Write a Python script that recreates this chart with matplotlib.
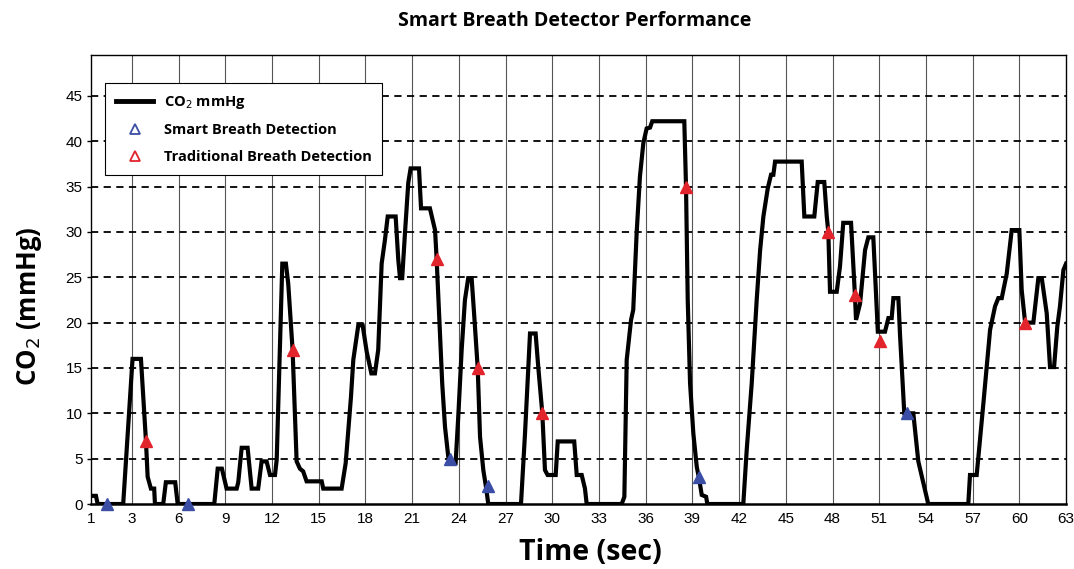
import numpy as np
import matplotlib.pyplot as plt
from matplotlib.lines import Line2D

# CO2 trace (time in sec, value in mmHg)
czas = [0.37, 0.69, 0.80, 2.44, 3.04, 3.58, 3.90, 4.01, 4.22, 4.43, 4.48, 5.01, 5.18, 5.78, 5.94,
        8.29, 8.51, 8.78, 9.08, 9.73, 9.83, 10.05, 10.43, 10.69, 11.11, 11.33, 11.65, 11.87, 12.19,
        12.30, 12.66, 12.89, 13.04, 13.32, 13.58, 13.79, 14.00, 14.22, 15.19, 15.29, 16.47, 16.73,
        17.07, 17.22, 17.54, 17.82, 18.08, 18.38, 18.61, 18.82, 19.04, 19.25, 19.43, 19.94, 20.11,
        20.22, 20.36, 20.54, 20.75, 20.90, 21.44, 21.57, 22.14, 22.36, 22.47, 22.57, 22.72, 22.93,
        23.11, 23.32, 23.43, 23.79, 23.96, 24.18, 24.39, 24.60, 24.82, 24.99, 25.21, 25.36, 25.57,
        25.74, 25.89, 27.99, 28.25, 28.57, 28.93, 29.10, 29.36, 29.53, 29.70, 30.22, 30.35, 31.41,
        31.57, 31.89, 32.10, 32.21, 34.46, 34.63, 34.78, 35.06, 35.20, 35.42, 35.63, 35.85, 36.06,
        36.28, 36.42, 38.48, 38.59, 38.70, 38.85, 39.06, 39.28, 39.43, 39.60, 39.88, 39.96, 42.27,
        42.49, 42.81, 43.13, 43.35, 43.56, 43.84, 44.05, 44.20, 44.31, 46.02, 46.19, 46.83, 47.05,
        47.47, 47.63, 47.73, 47.84, 48.27, 48.48, 48.69, 49.19, 49.44, 49.51, 49.77, 50.09, 50.30,
        50.62, 50.91, 51.37, 51.59, 51.80, 51.91, 52.23, 52.34, 52.55, 52.61, 53.19, 53.51, 54.15,
        56.72, 56.83, 57.26, 57.69, 58.12, 58.44, 58.65, 58.87, 59.19, 59.51, 60.00, 60.15, 60.37,
        60.90, 61.22, 61.44, 61.76, 61.97, 62.23, 62.44, 62.61, 62.83, 63.00]
co2 = [0.9, 0.9, 0, 0, 16, 16, 7, 3.0, 1.7, 1.7, 0, 0, 2.4, 2.4, 0,
       0, 3.9, 3.9, 1.7, 1.7, 2.4, 6.2, 6.2, 1.7, 1.7, 4.7, 4.7, 3.2, 3.2,
       4.9, 26.5, 26.5, 24.3, 17.0, 4.7, 3.9, 3.6, 2.5, 2.5, 1.7, 1.7, 4.5,
       11.8, 15.9, 19.7, 19.7, 16.8, 14.4, 14.4, 17.0, 26.5, 29.1, 31.7, 31.7, 26.9,
       24.9, 24.9, 29.9, 35.4, 37.0, 37.0, 32.6, 32.6, 31.0, 30.2, 27.1, 21.4, 13.3,
       8.5, 5.2, 4.5, 4.5, 9.6, 17.0, 22.5, 24.9, 24.9, 20.7, 15.0, 7.4, 3.75,
       1.9, 0, 0, 7.8, 18.8, 18.8, 15.1, 10.0, 3.75, 3.2, 3.2, 6.9, 6.9,
       3.2, 3.2, 1.7, 0, 0, 0.8, 15.9, 20.3, 21.4, 29.9, 36.1, 39.8, 41.4,
       41.5, 42.2, 42.2, 35.0, 22.5, 13.3, 7.8, 4.1, 2.8, 1.0, 0.8, 0, 0,
       6.0, 13.3, 22.5, 28.0, 31.7, 34.8, 36.3, 36.3, 37.75, 37.75, 31.7, 31.7, 35.5,
       35.5, 31.7, 30.0, 23.4, 23.4, 26.2, 31.0, 31.0, 23.0, 20.3, 22.1, 28.0, 29.4,
       29.4, 19.0, 19.0, 20.5, 20.5, 22.7, 22.7, 18.5, 11.8, 10.0, 10.0, 4.7, 0,
       0, 3.2, 3.2, 11.1, 19.2, 21.8, 22.7, 22.7, 25.4, 30.2, 30.2, 23.6, 20.0,
       20.0, 24.9, 24.9, 21.0, 15.1, 15.1, 19.6, 21.8, 25.8, 26.5]

smart_t = [1.39, 6.58, 23.43, 25.89, 39.43, 52.77]
smart_v = [0, 0, 5, 2, 3, 10]
trad_t = [3.90, 13.32, 22.57, 25.21, 29.36, 38.59, 47.73, 49.44, 51.05, 60.37]
trad_v = [7, 17, 27, 15, 10, 35, 30, 23, 18, 20]

xticks = [0.37, 3, 6, 9, 12, 15, 18, 21, 24, 27, 30, 33, 36, 39, 42, 45, 48, 51, 54, 57, 60, 63]
xlabels = ['1'] + [str(v) for v in xticks[1:]]
yticks = [0, 5, 10, 15, 20, 25, 30, 35, 40, 45]

niebieski = '#3b4ea6'
czerwony = '#e2242c'
napisy = ['Open Sans', 'DejaVu Sans']

plt.rcParams['font.family'] = ['Liberation Sans', 'DejaVu Sans']
fig = plt.figure(figsize=(10.74, 5.69), dpi=100)
ax = fig.add_axes([0.0847, 0.1142, 0.9079, 0.7891])

ax.plot(czas, co2, color='black', lw=3, solid_joinstyle='miter', zorder=3)
ax.plot(smart_t, smart_v, linestyle='none', marker='^', ms=9, color=niebieski, zorder=4, clip_on=False)
ax.plot(trad_t, trad_v, linestyle='none', marker='^', ms=9, color=czerwony, zorder=4, clip_on=False)

ax.set_xlim(0.37, 63)
ax.set_ylim(0, 49.5)
ax.set_xticks(xticks)
ax.set_xticklabels(xlabels, fontsize=11)
ax.set_yticks(yticks)
ax.set_yticklabels([str(v) for v in yticks], fontsize=11)
ax.tick_params(axis='x', length=0, pad=6)
ax.tick_params(axis='y', length=3, width=1, pad=3)

for x in xticks[1:-1]:
    ax.axvline(x, color='#555555', lw=0.8, zorder=1)
for y in yticks[1:]:
    ax.axhline(y, color='black', lw=1.3, linestyle=(0, (4, 3)), zorder=1)

for s in ax.spines.values():
    s.set_linewidth(1.0)
ax.spines['bottom'].set_linewidth(1.8)

ax.set_xlabel('Time (sec)', fontsize=20.5, fontweight='bold', family=napisy)
ax.xaxis.set_label_coords(0.512, -0.075)
ax.set_ylabel('CO$_2$ (mmHg)', fontsize=18.5, fontweight='bold', family=napisy)
ax.yaxis.set_label_coords(-0.048, 0.44)
fig.suptitle('Smart Breath Detector Performance', x=0.535, y=0.98, fontsize=14, fontweight='bold',
             family=napisy)

uchwyty = [
    Line2D([], [], color='black', lw=3.5),
    Line2D([], [], linestyle='none', marker='^', ms=7, mfc='none', mec=niebieski, mew=1.3),
    Line2D([], [], linestyle='none', marker='^', ms=7, mfc='none', mec=czerwony, mew=1.3),
]
leg = ax.legend(uchwyty, ['CO$_2$ mmHg', 'Smart Breath Detection', 'Traditional Breath Detection'],
                loc='upper left', bbox_to_anchor=(0.014, 0.9376), borderaxespad=0, fancybox=False,
                framealpha=1, edgecolor='black', handlelength=2.6, handletextpad=0.7,
                prop={'size': 10.5, 'weight': 'bold', 'family': napisy},
                labelspacing=0.85, borderpad=0.75)
leg.get_frame().set_linewidth(0.8)
leg.set_zorder(5)

fig.savefig('out.png', dpi=100)
